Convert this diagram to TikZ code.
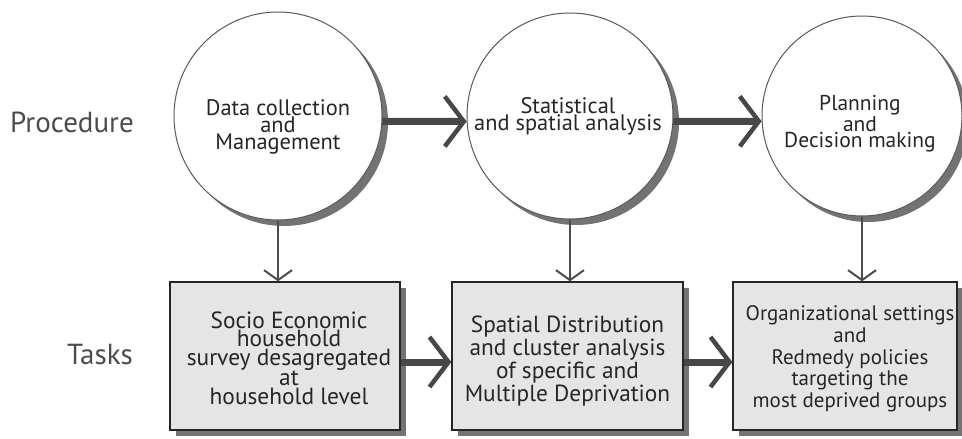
\documentclass[tikz,border=0pt]{standalone}
\usepackage{fontspec}
\setmainfont{PT Sans}
\usetikzlibrary{arrows.meta}
\begin{document}
\begin{tikzpicture}[x=1pt,y=-1pt,
  stage/.style={circle,draw=black!65,line width=1pt,fill=white,inner sep=0pt},
  stagetext/.style={align=center,inner sep=0pt,text=black!85},
  task/.style={rectangle,draw=black!85,line width=1.3pt,fill=black!10,inner sep=0pt,
    align=center,text=black!85},
  rowlabel/.style={font=\fontsize{29}{31}\selectfont,text=black!70},
  flow/.style={draw=black!72,line width=7pt,
    -{Straight Barb[length=19pt,width=50pt,line width=4.5pt]}},
  feed/.style={draw=black!70,line width=2pt,
    -{Straight Barb[length=10pt,width=28pt,line width=2pt]}}]
\useasboundingbox (0,0) rectangle (962,439);

% stage circles with their offset shadows
\foreach \x/\r in {278/104,570/103,862/100}
  \fill[black!55] (\x+6,122) circle[radius=\r];
\node[stage,minimum size=208pt] (c1) at (278,116) {};
\node[stage,minimum size=206pt] (c2) at (570,116) {};
\node[stage,minimum size=200pt] (c3) at (862,116) {};
\node[stagetext,font=\fontsize{22.4}{15}\selectfont] (t1) at (278,127)
  {Data collection\\and\\Management};
\node[stagetext,font=\fontsize{22.4}{17}\selectfont] (t2) at (568,116)
  {Statistical\\and spatial analysis};
\node[stagetext,font=\fontsize{21.5}{16.5}\selectfont] (t3) at (860,124)
  {Planning\\and\\Decision making};

% task boxes with their offset shadows
\fill[black!55] (176,288) rectangle (406,436);
\fill[black!55] (458,288) rectangle (689,436);
\fill[black!55] (739,288) rectangle (963,436);
\node[task,minimum width=230pt,minimum height=148pt] (b1) at (285,356) {};
\node[task,minimum width=231pt,minimum height=148pt] (b2) at (567.5,356) {};
\node[task,minimum width=224pt,minimum height=148pt] (b3) at (845,356) {};
\node[stagetext,font=\fontsize{23.4}{18.6}\selectfont] (s1) at (289,358)
  {Socio Economic\\household\\survey desagregated\\at\\household level};
\node[stagetext,font=\fontsize{23.3}{22.7}\selectfont] (s2) at (567.5,361)
  {Spatial Distribution\\and cluster analysis\\of specific and\\Multiple Deprivation};
\node[stagetext,font=\fontsize{21}{21.7}\selectfont] (s3) at (850,359)
  {Organizational settings\\and\\Redmedy policies\\targeting the\\most deprived groups};

% row labels
\node[rowlabel] (lp) at (72,122) {Procedure};
\node[rowlabel] (lt) at (100,355) {Tasks};

% procedure flow
\path[flow] (c1.-3) -- (c2.183);
\path[flow] (c2.-3) -- (c3.183);

% circles feeding their tasks
\path[feed] (c1.south) -- (c1.south |- b1.north);
\path[feed] (c2.south) -- (c2.south |- b2.north);
\path[feed] (c3.south) -- (c3.south |- b3.north);

% task flow
\path[flow] ([yshift=-6pt]b1.east) -- ([yshift=-6pt]b2.west);
\path[flow] ([yshift=-6pt]b2.east) -- ([yshift=-6pt]b3.west);
\end{tikzpicture}
\end{document}
